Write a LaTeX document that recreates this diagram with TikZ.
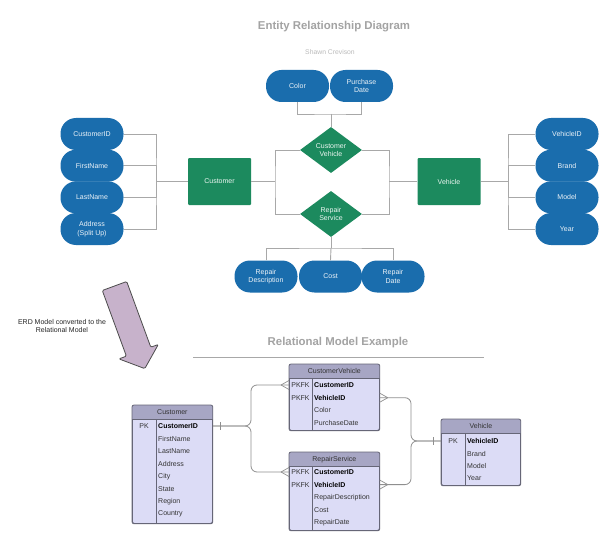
\documentclass[tikz,border=0pt]{standalone}
\usepackage{fontspec}
\setmainfont{Liberation Sans}
\usetikzlibrary{shapes.geometric}

\definecolor{erblue}{HTML}{1A6DAD}
\definecolor{ergreen}{HTML}{1C8A5E}
\definecolor{erline}{HTML}{A8A8A8}
\definecolor{titlegray}{HTML}{A3A3A3}
\definecolor{subgray}{HTML}{BBBBBB}
\definecolor{thead}{HTML}{A7A6C4}
\definecolor{tbody}{HTML}{DCDCF6}
\definecolor{tborder}{HTML}{666677}
\definecolor{ttext}{HTML}{333333}
\definecolor{arrowfill}{HTML}{C7B2CB}

\tikzset{
  x=1pt, y=-1pt,
  txt/.style={font=\fontsize{7}{8.5}\selectfont},
  attr/.style={txt, fill=erblue, text=white!92!erblue, rounded corners=15.5pt,
    minimum width=63pt, minimum height=32pt, inner sep=0pt, align=center},
  entity/.style={txt, fill=ergreen, text=white!92!ergreen, rounded corners=1pt,
    minimum width=63pt, minimum height=47pt, inner sep=0pt},
  relation/.style={txt, diamond, fill=ergreen, text=white!92!ergreen,
    minimum width=62pt, minimum height=46pt, inner sep=0pt, align=center},
  erlink/.style={draw=erline, line width=0.9pt},
  relink/.style={draw=erline!85!black, line width=0.8pt, rounded corners=6pt},
  notation/.style={draw=erline!85!black, line width=0.7pt},
  tframe/.style={draw=tborder, line width=0.8pt, fill=tbody, rounded corners=2pt,
    inner sep=0pt, anchor=north west},
  thdr/.style={txt, text=ttext, anchor=center},
  tkey/.style={txt, text=ttext, anchor=center},
  tfld/.style={txt, text=ttext, anchor=west, inner sep=0pt},
  tfldb/.style={tfld, font=\fontsize{7}{8.5}\selectfont\bfseries, text=black},
  heading/.style={font=\fontsize{11.4}{13}\selectfont\bfseries, text=titlegray},
}

% crow's foot ("many") ending on a table edge; #1 = edge point, #2 = side (+1 / -1)
\newcommand{\crowfoot}[2]{%
  \draw[notation]
    ([xshift=#2*8pt]#1) -- ([yshift=4.5pt]#1)
    ([xshift=#2*8pt]#1) -- ([yshift=-4.5pt]#1);}
% single bar ("one") across a connector
\newcommand{\onebar}[1]{%
  \draw[notation] ([yshift=4pt]#1) -- ([yshift=-4pt]#1);}
% table frame with header band: name, left x, top y, width, height, title
\newcommand{\ertable}[6]{%
  \node[tframe, minimum width=#4pt, minimum height=#5pt] (#1) at (#2,#3) {};
  \begin{scope}
    \clip[rounded corners=2pt] (#1.north west) rectangle (#1.south east);
    \fill[thead] (#1.north west) rectangle ([yshift=-14.5pt]#1.north east);
  \end{scope}
  \draw[draw=tborder, line width=0.8pt, rounded corners=2pt]
    (#1.north west) rectangle (#1.south east);
  \draw[draw=tborder, line width=0.7pt]
    ([yshift=-14.5pt]#1.north west) -- ([yshift=-14.5pt]#1.north east);
  \node[thdr] (#1-title) at ([yshift=-7.3pt]#1.north) {#6};
}

\begin{document}
\begin{tikzpicture}
\useasboundingbox[fill=white] (0,0) rectangle (614,543);

% ---------- titles ----------
\node[heading] (t1) at (334,27) {Entity Relationship Diagram};
\node[font=\fontsize{6.8}{8}\selectfont, text=subgray] (t2) at (330,52) {Shawn Crevison};

% ---------- ER diagram ----------
\node[attr] (color) at (297.5,86) {Color};
\node[attr] (pdate) at (361.5,86) {Purchase\\Date};

\node[relation] (cv) at (331,150) {Customer\\Vehicle};
\node[relation] (rs) at (331,214) {Repair\\Service};

\node[entity] (cust) at (219.5,181.5) {Customer};
\node[entity] (veh) at (449,181.5) {Vehicle};

\node[attr] (a1) at (92,134) {CustomerID};
\node[attr] (a2) at (92,165.7) {FirstName};
\node[attr] (a3) at (92,197.4) {LastName};
\node[attr] (a4) at (92,229) {Address\\(Split Up)};

\node[attr] (v1) at (567,134) {VehicleID};
\node[attr] (v2) at (567,165.7) {Brand};
\node[attr] (v3) at (567,197.4) {Model};
\node[attr] (v4) at (567,229) {Year};

\node[attr] (r1) at (266,276.5) {Repair\\Description};
\node[attr] (r2) at (330.5,276.5) {Cost};
\node[attr] (r3) at (393,276.5) {Repair\\Date};

% junction points of the connector trees
\coordinate (jtop) at (331,114);
\coordinate (jleft) at (275,181.5);
\coordinate (jright) at (389,181.5);
\coordinate (jcust) at (156,181.5);
\coordinate (jveh) at (508,181.5);
\coordinate (jbot) at (331,248);

\draw[erlink] (color.south) |- (jtop) -| (pdate.south);
\draw[erlink] (jtop) -- (cv.north);
\draw[erlink] (cv.west) -| (jleft) |- (rs.west);
\draw[erlink] (cust.east) -- (jleft);
\draw[erlink] (cv.east) -| (jright) |- (rs.east);
\draw[erlink] (veh.west) -- (jright);
\draw[erlink] (a1.east) -| (jcust) |- (a4.east);
\draw[erlink] (a2.east) -| (jcust);
\draw[erlink] (a3.east) -| (jcust);
\draw[erlink] (jcust) -- (cust.west);
\draw[erlink] (v1.west) -| (jveh) |- (v4.west);
\draw[erlink] (v2.west) -| (jveh);
\draw[erlink] (v3.west) -| (jveh);
\draw[erlink] (jveh) -- (veh.east);
\draw[erlink] (rs.south) -- (jbot);
\draw[erlink] (r1.north) |- (jbot) -| (r3.north);
\draw[erlink] (jbot) -- (r2.north);

% ---------- conversion arrow ----------
\draw[fill=arrowfill, draw=black!70, line width=0.8pt, rounded corners=1.2pt]
  (102.3,290.5) -- (126.7,281.5) -- (150.8,347.2) -- (158.3,344.5)
  -- (144.8,368.6) -- (118.9,358.9) -- (126.4,356.2) -- cycle;
\node[txt, text=black!85, align=center] (note) at (62,326)
  {ERD Model converted to the\\Relational Model};

% ---------- relational model ----------
\node[heading] (t3) at (338,343) {Relational Model Example};
\draw[draw=erline, line width=0.8pt] (193,357) -- (484,357);

% Customer table
\ertable{tc}{132}{405}{80}{118}{Customer}
\draw[draw=tborder, line width=0.7pt] (156,419.5) -- (156,523);
\node[tkey] (tc-k1) at (144,426) {PK};
\node[tfldb] (tc-f1) at (158,426) {CustomerID};
\node[tfld] (tc-f2) at (158,438.6) {FirstName};
\node[tfld] (tc-f3) at (158,451.2) {LastName};
\node[tfld] (tc-f4) at (158,463.8) {Address};
\node[tfld] (tc-f5) at (158,476.4) {City};
\node[tfld] (tc-f6) at (158,489) {State};
\node[tfld] (tc-f7) at (158,501.6) {Region};
\node[tfld] (tc-f8) at (158,514.2) {Country};

% CustomerVehicle table
\ertable{tcv}{289}{364}{90}{66}{CustomerVehicle}
\draw[draw=tborder, line width=0.7pt] (312,378.5) -- (312,430);
\node[tkey] (tcv-k1) at (300.5,385) {PKFK};
\node[tkey] (tcv-k2) at (300.5,397.7) {PKFK};
\node[tfldb] (tcv-f1) at (314,385) {CustomerID};
\node[tfldb] (tcv-f2) at (314,397.7) {VehicleID};
\node[tfld] (tcv-f3) at (314,410.4) {Color};
\node[tfld] (tcv-f4) at (314,423) {PurchaseDate};

% RepairService table
\ertable{trs}{289}{452}{90}{78}{RepairService}
\draw[draw=tborder, line width=0.7pt] (312,466.5) -- (312,530);
\node[tkey] (trs-k1) at (300.5,472) {PKFK};
\node[tkey] (trs-k2) at (300.5,484.6) {PKFK};
\node[tfldb] (trs-f1) at (314,472) {CustomerID};
\node[tfldb] (trs-f2) at (314,484.6) {VehicleID};
\node[tfld] (trs-f3) at (314,497.2) {RepairDescription};
\node[tfld] (trs-f4) at (314,509.8) {Cost};
\node[tfld] (trs-f5) at (314,522.4) {RepairDate};

% Vehicle table
\ertable{tv}{441}{419}{79}{66}{Vehicle}
\draw[draw=tborder, line width=0.7pt] (465,433.5) -- (465,485);
\node[tkey] (tv-k1) at (453,441) {PK};
\node[tfldb] (tv-f1) at (467,441) {VehicleID};
\node[tfld] (tv-f2) at (467,453.5) {Brand};
\node[tfld] (tv-f3) at (467,466) {Model};
\node[tfld] (tv-f4) at (467,478.5) {Year};

% foreign-key connectors
\coordinate (jc) at (251,426);
\coordinate (jv) at (411,441);
\draw[relink] (tc.east |- tc-f1) -- (jc) |- (tcv.west |- tcv-f1);
\draw[relink] (tc.east |- tc-f1) -- (jc) |- (trs.west |- trs-f1);
\draw[relink] (tcv.east |- tcv-f2) -| (jv) -- (tv.west |- tv-f1);
\draw[relink] (trs.east |- trs-f2) -| (jv) -- (tv.west |- tv-f1);
\onebar{220,426}
\onebar{433,441}
\crowfoot{tcv.west |- tcv-f1}{-1}
\crowfoot{trs.west |- trs-f1}{-1}
\crowfoot{tcv.east |- tcv-f2}{1}
\crowfoot{trs.east |- trs-f2}{1}
\end{tikzpicture}
\end{document}
